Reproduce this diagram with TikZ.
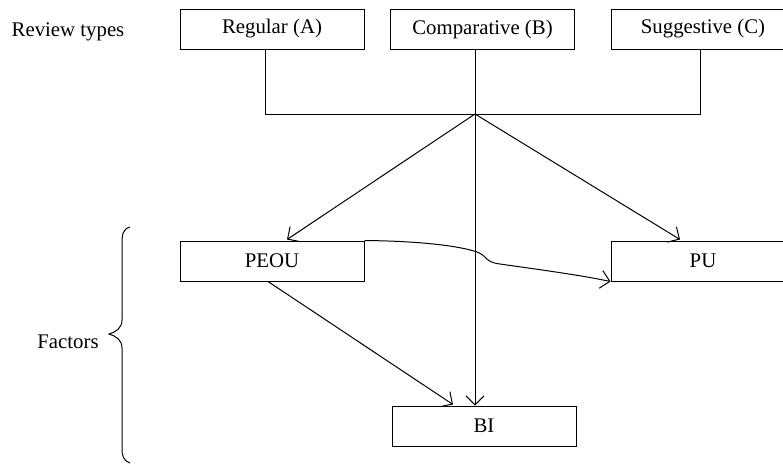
\documentclass[tikz,border=0pt]{standalone}
\usepackage{fontspec}
\setmainfont{Liberation Serif}
\usetikzlibrary{arrows.meta,calc}
\begin{document}
\begin{tikzpicture}[x=0.5pt,y=-0.5pt,
  font=\fontsize{10.4}{12}\selectfont,
  box/.style={draw,line width=0.5pt,minimum width=92pt,minimum height=20pt,inner sep=0pt,anchor=center},
  ln/.style={line width=0.5pt},
  arr/.style={line width=0.5pt,-{Straight Barb[length=4.5pt,width=9pt]}}]
\useasboundingbox (0,0) rectangle (783,463);
\node[box] (reg) at (272,29) {Regular (A)};
\node[box] (comp) at (482.5,29) {Comparative (B)};
\node[box] (sugg) at (703,29) {Suggestive (C)};
\node[box] (peou) at (272,261) {PEOU};
\node[box] (pu) at (703,261) {PU};
\node[box] (bi) at (484,426) {BI};
\node (rt) at (68,32) {Review types};
\node (fac) at (68,342) {Factors};
\coordinate (J) at (475,114);
\draw[ln] ($(reg.south)+(-7,0)$) |- (J) -| ($(sugg.south)+(-3,0)$);
\draw[arr] (comp.south -| J) -- (bi.north -| J);
\draw[arr] (J) -- ($(peou.north)+(15,-1)$);
\draw[arr] (J) -- ($(pu.north)+(-23,-1)$);
\draw[arr] ($(peou.south)+(-4,0)$) -- ($(bi.north)+(-31,-1)$);
\draw[arr] (peou.north east) .. controls (420,241) and (460,246) .. (477,252)
  .. controls (488,256) and (484,262) .. (500,264)
  .. controls (535,269) and (580,275) .. (pu.south west);
\draw[ln] (130,227) .. controls (123,229) and (122,234) .. (122,244) -- (122,320)
  .. controls (122,328) and (116,332) .. (109,334)
  .. controls (116,336) and (122,340) .. (122,348) -- (122,448)
  .. controls (122,456) and (123,460) .. (130,463);
\end{tikzpicture}
\end{document}
